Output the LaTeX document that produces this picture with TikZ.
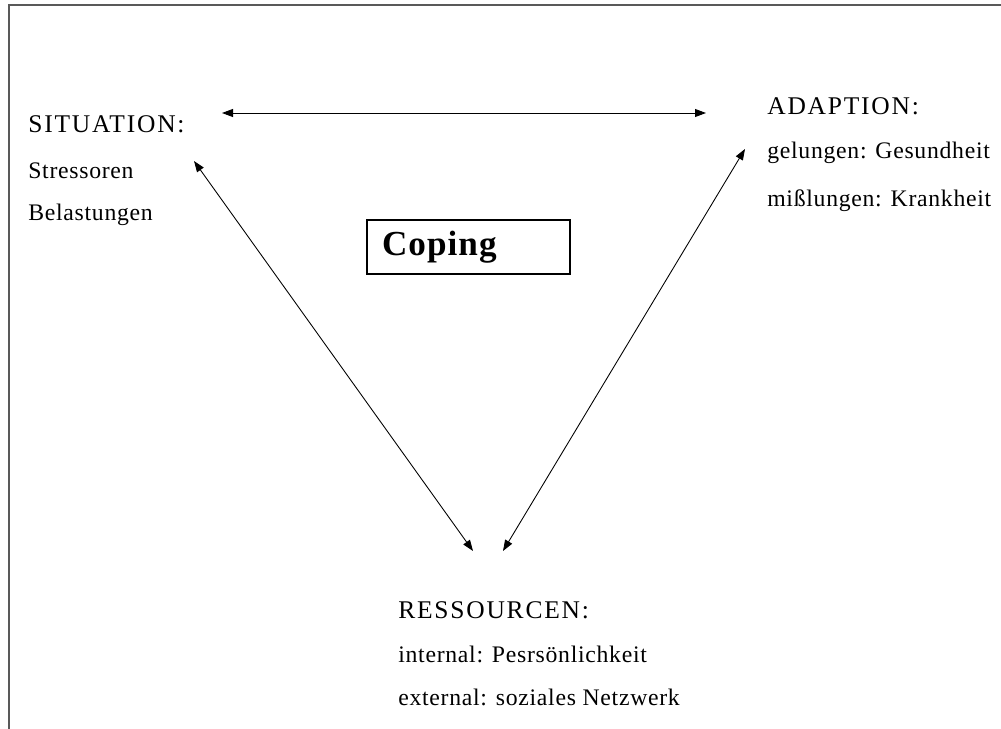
\documentclass[tikz,border=0pt]{standalone}
\usepackage{fontspec}
\setmainfont{Liberation Serif}
\usetikzlibrary{arrows.meta}

\tikzset{
	head/.style={anchor=base west, inner sep=0pt, font=\fontsize{14.5}{16}\selectfont\addfontfeature{LetterSpace=7}},
	txt/.style={anchor=base west, inner sep=0pt, font=\fontsize{13.5}{15}\selectfont\addfontfeature{LetterSpace=3}},
	link/.style={{Triangle[length=2.2mm,width=1.6mm]}-{Triangle[length=2.2mm,width=1.6mm]}, line width=0.5pt}
}

\begin{document}
\begin{tikzpicture}
	\useasboundingbox (0, 0) rectangle (20.02, -14.58);
	% frame
	\draw[line width=0.8pt, gray!70!black] (0.18, -14.58) -- (0.18, -0.1) -- (20.02, -0.1);

	% situation
	\node[head] (situation) at (0.56, -2.66) {SITUATION:};
	\node[txt] (stress) at (0.56, -3.58) {Stressoren};
	\node[txt] (belast) at (0.56, -4.42) {Belastungen};

	% adaption
	\node[head] (adaption) at (15.34, -2.30) {ADAPTION:};
	\node[txt] (gelungen) at (15.34, -3.18) {gelungen: Gesundheit};
	\node[txt] (misslungen) at (15.34, -4.14) {mißlungen: Krankheit};

	% ressourcen
	\node[head] (ressourcen) at (7.96, -12.36) {RESSOURCEN:};
	\node[txt] (internal) at (7.96, -13.24) {internal: Pesrsönlichkeit};
	\node[txt] (external) at (7.96, -14.10) {external: soziales Netzwerk};

	\node[draw, line width=0.6pt, minimum width=4.06cm, minimum height=1.08cm, text width=3.46cm, inner xsep=0.3cm, align=left, font=\fontsize{20}{22}\selectfont\bfseries\addfontfeature{LetterSpace=3}] (coping) at (9.37, -4.94) {Coping};

	% arrow ends
	\coordinate (sitR) at (4.44, -2.26);
	\coordinate (adL) at (14.12, -2.26);
	\coordinate (sitB) at (3.88, -3.22);
	\coordinate (resL) at (9.46, -11.02);
	\coordinate (adB) at (14.90, -2.98);
	\coordinate (resR) at (10.06, -11.02);

	\draw[link] (sitR) -- (adL);
	\draw[link] (sitB) -- (resL);
	\draw[link] (adB) -- (resR);
\end{tikzpicture}
\end{document}
